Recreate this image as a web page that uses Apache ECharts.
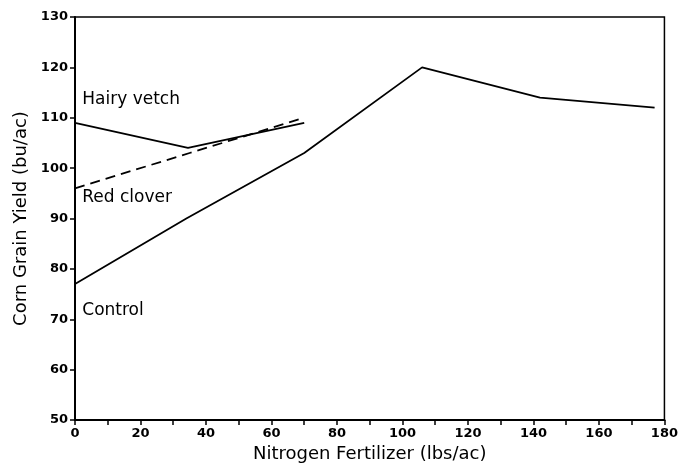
<!DOCTYPE html>
<html><head><meta charset="utf-8">
<script src="https://cdn.jsdelivr.net/npm/echarts@6/dist/echarts.min.js"></script>
<style>html,body{margin:0;padding:0;background:#fff}#c{width:681px;height:470px}</style>
</head><body><div id="c"></div>
<script>
const controlX = [0, 34, 70, 106, 142, 177];
const controlY = [77, 90, 103, 120, 114, 112];
const vetchX = [0, 34.5, 70];
const vetchY = [109, 104, 109];
const cloverX = [0, 35, 70];
const cloverY = [96, 103, 110];
const labelNames = ['Hairy vetch', 'Red clover', 'Control'];
const labelX = [1, 1, 1];
const labelY = [113.7, 94.1, 71.7];

const zip = (xs, ys) => xs.map((x, i) => [x, ys[i]]);
const font = 'DejaVu Sans';
const chart = echarts.init(document.getElementById('c'));
chart.setOption({
  animation: false,
  backgroundColor: '#fff',
  grid: {left: 75, right: 15, top: 17, bottom: 50, show: true, borderColor: '#000', borderWidth: 1.5},
  xAxis: {
    type: 'value', min: 0, max: 180, interval: 20,
    name: 'Nitrogen Fertilizer (lbs/ac)', nameLocation: 'middle', nameGap: 23,
    nameTextStyle: {fontFamily: font, fontSize: 18, color: '#000'},
    axisLine: {lineStyle: {color: '#000', width: 2}},
    axisTick: {show: true, length: 5, lineStyle: {color: '#000', width: 1.5}},
    minorTick: {show: true, splitNumber: 2, length: 5, lineStyle: {color: '#000', width: 1.5}},
    axisLabel: {fontFamily: font, fontSize: 13, fontWeight: 'bold', color: '#000', margin: 7},
    splitLine: {show: false}
  },
  yAxis: {
    type: 'value', min: 50, max: 130, interval: 10,
    name: 'Corn Grain Yield (bu/ac)', nameLocation: 'middle', nameGap: 45,
    nameTextStyle: {fontFamily: font, fontSize: 18, color: '#000'},
    axisLine: {show: true, lineStyle: {color: '#000', width: 2}},
    axisTick: {show: true, length: 5, lineStyle: {color: '#000', width: 1.5}},
    axisLabel: {fontFamily: font, fontSize: 13, fontWeight: 'bold', color: '#000', margin: 7},
    splitLine: {show: false}
  },
  series: [
    {type: 'line', data: zip(controlX, controlY), symbol: 'none', lineStyle: {color: '#000', width: 1.8}},
    {type: 'line', data: zip(vetchX, vetchY), symbol: 'none', lineStyle: {color: '#000', width: 1.8}},
    {type: 'line', data: zip(cloverX, cloverY), symbol: 'none', lineStyle: {color: '#000', width: 1.8, type: [10, 6]}},
    {type: 'scatter', symbolSize: 0, silent: true, itemStyle: {opacity: 1, color: '#000'},
      data: labelNames.map((n, i) => ({name: n, value: [labelX[i], labelY[i]]})),
      label: {show: true, position: 'right', distance: 4, formatter: p => p.name,
        fontFamily: font, fontSize: 17, color: '#000'}}
  ]
});
</script></body></html>
